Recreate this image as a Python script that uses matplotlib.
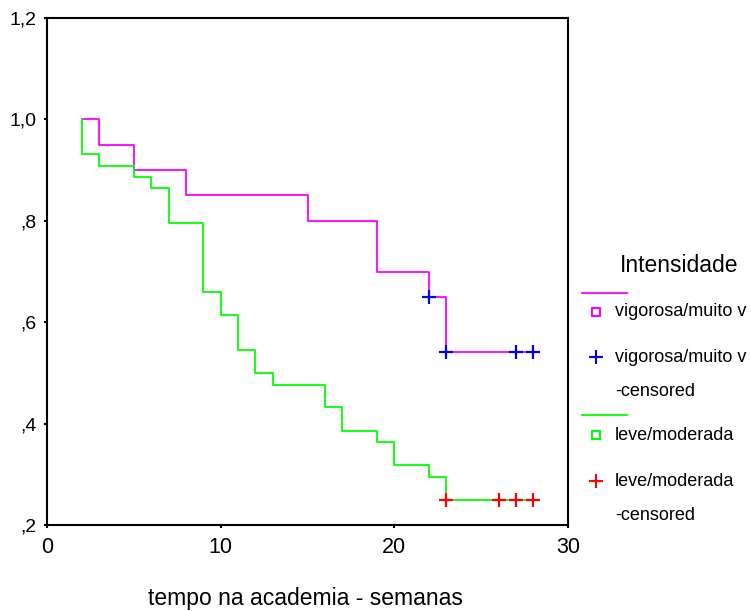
import matplotlib
matplotlib.use("Agg")
import matplotlib.pyplot as plt
from matplotlib.lines import Line2D

plt.rcParams['font.family'] = ['Liberation Sans', 'DejaVu Sans']

# ---- data ----
vig_times = [2, 3, 5, 8, 15, 19, 22, 23, 28]
vig_surv = [1.0, 0.95, 0.90, 0.85, 0.80, 0.70, 0.65, 0.5417, 0.5417]
vig_cens_times = [22, 23, 27, 28]
vig_cens_surv = [0.65, 0.5417, 0.5417, 0.5417]

lev_times = [2, 2, 3, 5, 6, 7, 9, 10, 11, 12, 13, 16, 17, 19, 20, 22, 23, 28]
lev_surv = [1.0, 0.932, 0.909, 0.886, 0.864, 0.795, 0.659, 0.614, 0.545, 0.500,
            0.477, 0.432, 0.386, 0.364, 0.318, 0.295, 0.250, 0.250]
lev_cens_times = [23, 26, 27, 28]
lev_cens_surv = [0.25, 0.25, 0.25, 0.25]

x_ticks = [0, 10, 20, 30]
y_ticks = [0.2, 0.4, 0.6, 0.8, 1.0, 1.2]
y_tick_labels = [",2", ",4", ",6", ",8", "1,0", "1,2"]

legend_title = "Intensidade"
legend_labels = ["vigorosa/muito v", "vigorosa/muito v\n-censored",
                 "leve/moderada", "leve/moderada\n-censored"]
xlabel = "tempo na academia - semanas"

MAG, GRN, BLU, RED = "#FF00FF", "#00FF00", "#0000FF", "#FF0000"

W, H = 751, 611
fig = plt.figure(figsize=(W / 100, H / 100), dpi=100)
fig.patch.set_facecolor("white")
ax = fig.add_axes([47 / W, 1 - 525 / H, 521 / W, 507 / H])

ax.step(vig_times, vig_surv, where="post", color=MAG, lw=1.3)
ax.step(lev_times, lev_surv, where="post", color=GRN, lw=1.3)
ax.plot(vig_cens_times, vig_cens_surv, ls="none", marker="+", color=BLU,
        ms=10, mew=1.6)
ax.plot(lev_cens_times, lev_cens_surv, ls="none", marker="+", color=RED,
        ms=10, mew=1.6)

ax.set_xlim(0, 30)
ax.set_ylim(0.2, 1.2)
ax.set_xticks(x_ticks)
ax.set_xticklabels([str(t) for t in x_ticks], fontsize=15.5)
ax.set_yticks(y_ticks)
ax.set_yticklabels(y_tick_labels, fontsize=14)
ax.tick_params(axis="both", direction="out", length=2.5, width=1.5,
               colors="black")
ax.tick_params(axis="x", pad=6)
ax.tick_params(axis="y", pad=5)
for s in ax.spines.values():
    s.set_linewidth(1.5)
    s.set_color("black")


def fx(x):
    return x / W


def fy(y):
    return 1 - y / H


fig.text(fx(305), fy(598), xlabel, ha="center", va="center", fontsize=16.5)

# ---- legend ----
fig.text(fx(679), fy(265), legend_title, ha="center", va="center",
         fontsize=16.5)
fs = 13
fig.add_artist(Line2D([fx(582), fx(627)], [fy(293), fy(293)], color=MAG,
                      lw=1.3, transform=fig.transFigure))
fig.add_artist(Line2D([fx(596)], [fy(312)], ls="none", marker="s", ms=5.5,
                      mfc="none", mec=MAG, mew=1.5, transform=fig.transFigure))
fig.text(fx(615), fy(312), legend_labels[0], ha="left", va="center",
         fontsize=fs)
fig.add_artist(Line2D([fx(596)], [fy(357)], ls="none", marker="+", ms=10,
                      mec=BLU, mew=1.5, transform=fig.transFigure))
fig.text(fx(615), fy(358), legend_labels[1].split("\n")[0], ha="left",
         va="center", fontsize=fs)
fig.text(fx(615), fy(392), legend_labels[1].split("\n")[1], ha="left",
         va="center", fontsize=fs)
fig.add_artist(Line2D([fx(582), fx(627)], [fy(415), fy(415)], color=GRN,
                      lw=1.3, transform=fig.transFigure))
fig.add_artist(Line2D([fx(596)], [fy(435)], ls="none", marker="s", ms=5.5,
                      mfc="none", mec=GRN, mew=1.5, transform=fig.transFigure))
fig.text(fx(615), fy(436), legend_labels[2], ha="left", va="center",
         fontsize=fs)
fig.add_artist(Line2D([fx(596)], [fy(481)], ls="none", marker="+", ms=10,
                      mec=RED, mew=1.5, transform=fig.transFigure))
fig.text(fx(615), fy(482), legend_labels[3].split("\n")[0], ha="left",
         va="center", fontsize=fs)
fig.text(fx(615), fy(515), legend_labels[3].split("\n")[1], ha="left",
         va="center", fontsize=fs)

fig.savefig("out.png", dpi=100, facecolor="white")
